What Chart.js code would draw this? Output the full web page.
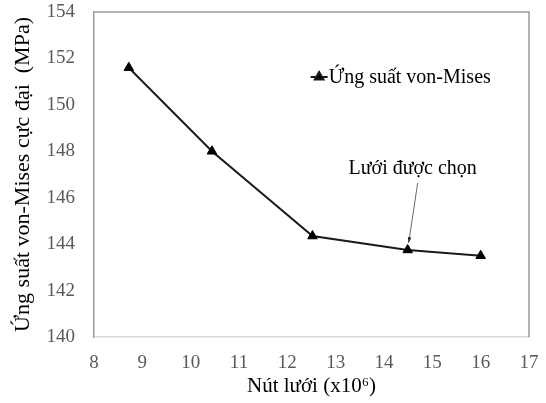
<!DOCTYPE html>
<html>
<head>
<meta charset="utf-8">
<script src="https://cdn.jsdelivr.net/npm/chart.js@4/dist/chart.umd.min.js"></script>
<style>
  html, body { margin: 0; padding: 0; background: #fff; }
  #wrap { width: 546px; height: 403px; }
</style>
</head>
<body>
<div id="wrap"><canvas id="meshChart"></canvas></div>
<script>
// mesh nodes (x10^6) and max von-Mises stress (MPa)
var nodes = [8.72, 10.44, 12.52, 14.49, 16.0];
var stress = [151.6, 148.0, 144.35, 143.75, 143.5];
var seriesName = 'Ứng suất von-Mises';
var xTitle = 'Nút lưới (x10⁶)';
var yTitle = 'Ứng suất von-Mises cực đại  (MPa)';
var noteText = 'Lưới được chọn';
var noteIndex = 3; // selected mesh

var serif = "'Liberation Serif', 'Times New Roman', serif";

var points = [];
for (var i = 0; i < nodes.length; i++) {
	points.push({x: nodes[i], y: stress[i]});
}

// frame on top and right, legend and the arrow note
var extras = {
	id: 'extras',
	afterDraw: function(chart) {
		var ctx = chart.ctx;
		var a = chart.chartArea;
		ctx.save();
		ctx.strokeStyle = '#9a9a9a';
		ctx.lineWidth = 1.5;
		ctx.beginPath();
		ctx.moveTo(a.left, a.top);
		ctx.lineTo(a.right, a.top);
		ctx.lineTo(a.right, a.bottom);
		ctx.stroke();

		// legend
		var lx = a.left + (a.right - a.left) * 0.498;
		var ly = a.top + 65;
		ctx.strokeStyle = '#1a1a1a';
		ctx.lineWidth = 2;
		ctx.beginPath();
		ctx.moveTo(lx, ly);
		ctx.lineTo(lx + 17, ly);
		ctx.stroke();
		Chart.helpers.drawPoint(ctx, {pointStyle: 'triangle', radius: 5, borderWidth: 1, rotation: 0}, lx + 8.5, ly);
		ctx.fillStyle = '#000';
		ctx.font = '20px ' + serif;
		ctx.textBaseline = 'middle';
		ctx.textAlign = 'left';
		ctx.fillText(seriesName, lx + 18, ly + 1);

		// note with arrow to the chosen mesh point
		var xs = chart.scales.x, ys = chart.scales.y;
		var px = xs.getPixelForValue(nodes[noteIndex]);
		var py = ys.getPixelForValue(stress[noteIndex]);
		var tx = px + 5, ty = py - 81;
		ctx.font = '20px ' + serif;
		ctx.textAlign = 'center';
		ctx.fillText(noteText, tx, ty);
		var sx = px + 10, sy = ty + 14;
		var ex = px + 1, ey = py - 7;
		ctx.strokeStyle = '#444';
		ctx.lineWidth = 0.8;
		ctx.beginPath();
		ctx.moveTo(sx, sy);
		ctx.lineTo(ex, ey);
		ctx.stroke();
		var ang = Math.atan2(ey - sy, ex - sx);
		ctx.fillStyle = '#222';
		ctx.beginPath();
		ctx.moveTo(ex, ey);
		ctx.lineTo(ex - 6 * Math.cos(ang - 0.3), ey - 6 * Math.sin(ang - 0.3));
		ctx.lineTo(ex - 6 * Math.cos(ang + 0.3), ey - 6 * Math.sin(ang + 0.3));
		ctx.closePath();
		ctx.fill();
		ctx.restore();
	}
};

var meshCanvas = document.getElementById('meshChart');

var dataFirst = {
	label: seriesName,
	data: points,
	fill: false,
	borderColor: '#1a1a1a',
	borderWidth: 2,
	backgroundColor: '#000',
	pointStyle: 'triangle',
	pointRadius: 5.5,
	pointBorderWidth: 1,
	pointBorderColor: '#000',
	pointBackgroundColor: '#000',
	tension: 0
};

var chartOptions = {
	responsive: true,
	maintainAspectRatio: false,
	animation: false,
	layout: {padding: {top: 12, right: 17, left: 0, bottom: 0}},
	plugins: {
		legend: {display: false},
		tooltip: {enabled: false}
	},
	scales: {
		x: {
			type: 'linear',
			min: 8,
			max: 17,
			ticks: {stepSize: 1, color: '#595959', font: {family: serif, size: 19}, padding: 0, maxRotation: 0},
			grid: {display: false, drawTicks: true, tickLength: 15},
			border: {color: '#d9d9d9', width: 1.5},
			title: {display: true, text: xTitle, color: '#000', font: {family: serif, size: 21}, padding: {top: 0}},
			afterFit: function(scale) { scale.height = 66; }
		},
		y: {
			min: 140,
			max: 154,
			ticks: {stepSize: 2, color: '#595959', font: {family: serif, size: 19}, padding: 0},
			grid: {display: false, drawTicks: true, tickLength: 19},
			border: {color: '#9a9a9a', width: 1.5},
			title: {display: true, text: yTitle, color: '#000', font: {family: serif, size: 22}, padding: {top: 10, bottom: 0}},
			afterFit: function(scale) { scale.width = 94; }
		}
	}
};

new Chart(meshCanvas, {
	type: 'line',
	data: {datasets: [dataFirst]},
	options: chartOptions,
	plugins: [extras]
});
</script>
</body>
</html>
